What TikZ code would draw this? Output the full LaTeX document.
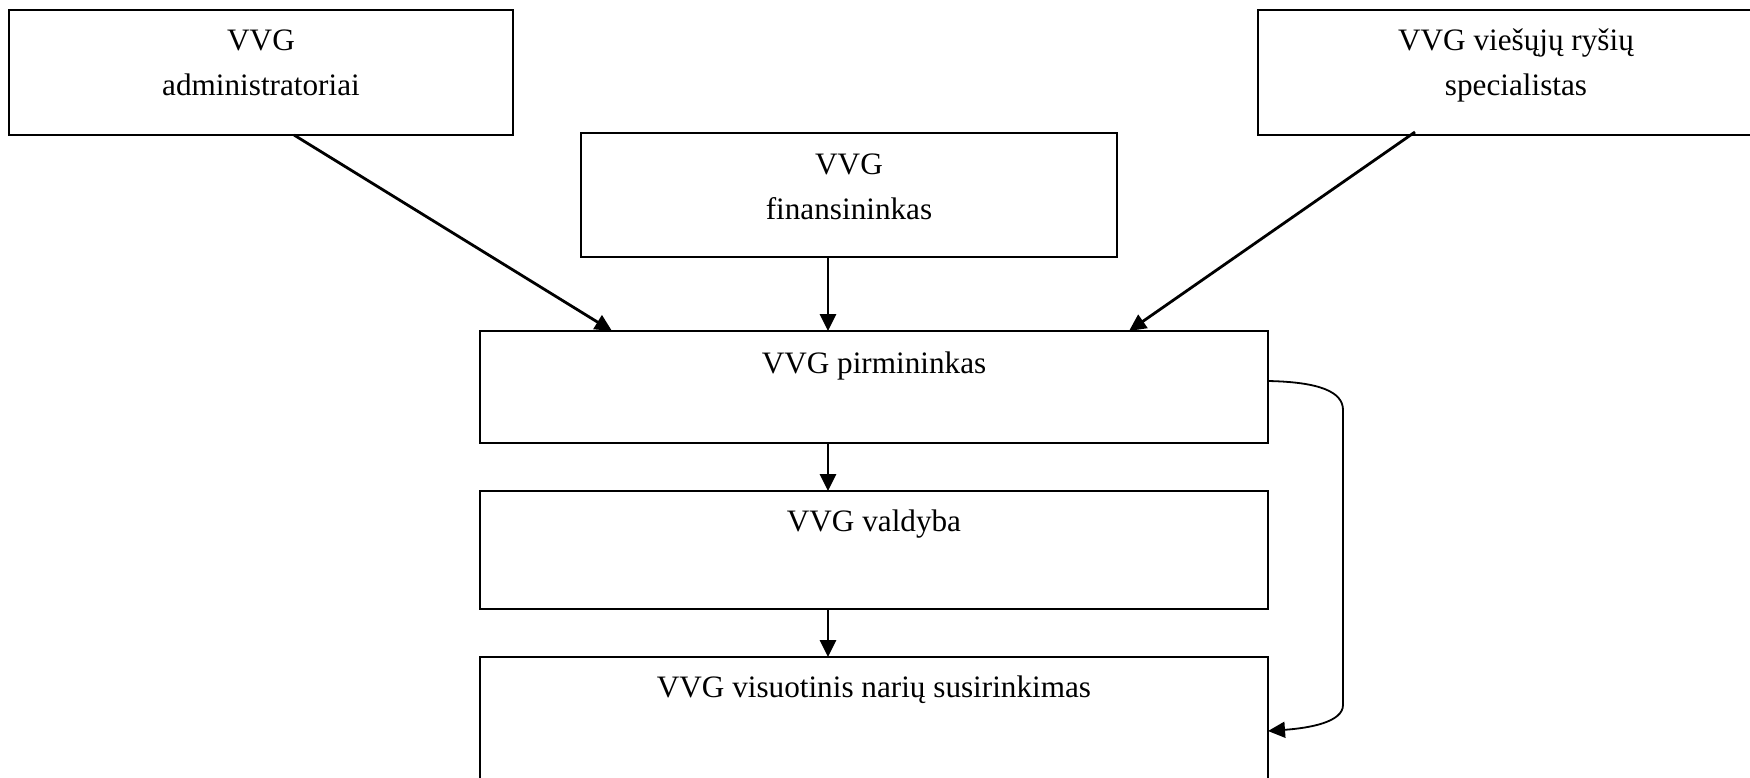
\documentclass[tikz,border=0pt]{standalone}
\usepackage{fontspec}
\setmainfont{Liberation Serif}
\usetikzlibrary{arrows.meta,calc}
\begin{document}
\begin{tikzpicture}[x=0.5pt,y=-0.5pt,
  box/.style={draw,line width=1.05pt,rectangle,inner sep=0pt,outer sep=0pt},
  lbl/.style={anchor=base,align=center,inner sep=0pt,font=\fontsize{15.6}{22.5}\selectfont},
  arr/.style={line width=1.4pt,-{Triangle[length=8.5pt,width=8pt]}},
  carr/.style={line width=0.9pt,-{Triangle[length=8.5pt,width=8pt]}}]
\useasboundingbox (0,0) rectangle (1750,777);
\node[box,minimum width=252pt,minimum height=62.5pt] (adm) at (261,72.5) {};
\node[box,minimum width=268pt,minimum height=62pt] (fin) at (849,195) {};
\node[box,minimum width=258pt,minimum height=62.5pt] (rys) at (1516,72.5) {};
\node[box,minimum width=394pt,minimum height=56pt] (pirm) at (874,387) {};
\node[box,minimum width=394pt,minimum height=59pt] (vald) at (874,550) {};
\node[box,minimum width=394pt,minimum height=71.5pt] (vis) at (874,728.5) {};
\node[lbl] (admt) at (261,95) {VVG\\administratoriai};
\node[lbl] (fint) at (849,219) {VVG\\finansininkas};
\node[lbl] (ryst) at (1516,95) {VVG viešųjų ryšių\\specialistas};
\node[lbl] (pirmt) at (874,373) {VVG pirmininkas};
\node[lbl] (valdt) at (874,531) {VVG valdyba};
\node[lbl] (vist) at (874,697) {VVG visuotinis narių susirinkimas};
\draw[arr] ($(adm.south west)+(285,0)$) -- ($(pirm.north west)+(132,0)$);
\draw[arr] ($(fin.south west)+(247,0)$) -- ($(pirm.north west)+(348,0)$);
\draw[arr] ($(rys.south west)+(157,-3)$) -- ($(pirm.north west)+(649,0)$);
\draw[arr] ($(pirm.south west)+(348,0)$) -- ($(vald.north west)+(348,0)$);
\draw[arr] ($(vald.south west)+(348,0)$) -- ($(vis.north west)+(348,0)$);
\coordinate (c1) at (1343,410);
\coordinate (c2) at (1343,705);
\draw[carr] ($(pirm.north east)+(0,50)$) .. controls (1320,382) and (1343,392) .. (c1) -- (c2) .. controls (1343,722) and (1310,728) .. ($(vis.north east)+(0,74)$);
\end{tikzpicture}
\end{document}
